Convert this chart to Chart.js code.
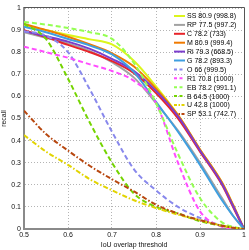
<!DOCTYPE html>
<html>
<head>
<meta charset="utf-8">
<script src="https://cdn.jsdelivr.net/npm/chart.js@4/dist/chart.umd.min.js"></script>
<style>
  html, body { margin: 0; padding: 0; background: #fff; }
  #wrap { width: 249px; height: 250px; }
</style>
</head>
<body>
<div id="wrap"><canvas id="recall-chart" width="249" height="250"></canvas></div>
<script>
// data
const thresholds = [0.5, 0.55, 0.6, 0.65, 0.7, 0.75, 0.8, 0.85, 0.9, 0.95, 0.975, 1.0];

const seriesNames = ["SS 80.9 (998.8)", "RP 77.5 (997.2)", "C 78.2 (733)", "M 80.9 (999.4)",
  "Ri 79.3 (668.5)", "G 78.2 (893.3)", "O 66 (999.5)", "R1 70.8 (1000)", "EB 78.2 (991.1)",
  "B 64.5 (1000)", "U 42.8 (1000)", "SP 53.1 (742.7)"];

const ssRecall = [0.92, 0.90, 0.878, 0.858, 0.835, 0.76, 0.645, 0.515, 0.36, 0.21, 0.11, 0.0];
const rpRecall = [0.89, 0.865, 0.84, 0.805, 0.755, 0.685, 0.57, 0.445, 0.30, 0.14, 0.06, 0.0];
const cRecall = [0.90, 0.868, 0.833, 0.80, 0.76, 0.705, 0.615, 0.50, 0.35, 0.20, 0.10, 0.0];
const mRecall = [0.928, 0.90, 0.87, 0.835, 0.795, 0.735, 0.635, 0.515, 0.36, 0.21, 0.11, 0.0];
const riRecall = [0.895, 0.872, 0.848, 0.815, 0.77, 0.715, 0.625, 0.51, 0.355, 0.205, 0.105, 0.0];
const gRecall = [0.915, 0.89, 0.86, 0.83, 0.79, 0.71, 0.575, 0.44, 0.29, 0.13, 0.06, 0.0];
const oRecall = [0.895, 0.875, 0.80, 0.63, 0.44, 0.27, 0.175, 0.10, 0.05, 0.015, 0.005, 0.0];
const r1Recall = [0.825, 0.80, 0.775, 0.745, 0.715, 0.67, 0.57, 0.30, 0.08, 0.01, 0.003, 0.0];
const ebRecall = [0.937, 0.925, 0.91, 0.89, 0.86, 0.75, 0.57, 0.34, 0.14, 0.03, 0.01, 0.0];
const bRecall = [0.93, 0.86, 0.68, 0.48, 0.30, 0.16, 0.10, 0.07, 0.035, 0.015, 0.006, 0.0];
const uRecall = [0.425, 0.35, 0.29, 0.225, 0.175, 0.13, 0.095, 0.065, 0.04, 0.015, 0.006, 0.0];
const spRecall = [0.535, 0.43, 0.355, 0.285, 0.225, 0.17, 0.11, 0.07, 0.04, 0.015, 0.006, 0.0];

const xTickLabels = ["0.5", "0.6", "0.7", "0.8", "0.9", "1"];
const yTickLabels = ["0", "0.1", "0.2", "0.3", "0.4", "0.5", "0.6", "0.7", "0.8", "0.9", "1"];

// styles
const solid = [];
const dash = [5, 3];
const dashDot = [5, 2, 1.5, 2];

const styles = [
  { color: '#dcf51c', dash: solid },
  { color: '#a2a2a2', dash: solid },
  { color: '#e8242a', dash: solid },
  { color: '#f07a00', dash: solid },
  { color: '#7b3dcc', dash: solid },
  { color: '#3f9fe0', dash: solid },
  { color: '#8888ec', dash: dash },
  { color: '#ff4cff', dash: dash },
  { color: '#94ff52', dash: dash },
  { color: '#74d400', dash: dash },
  { color: '#e2d400', dash: dashDot },
  { color: '#b84810', dash: dashDot }
];

const allRecall = [ssRecall, rpRecall, cRecall, mRecall, riRecall, gRecall,
  oRecall, r1Recall, ebRecall, bRecall, uRecall, spRecall];

const datasets = allRecall.map((vals, i) => ({
  label: seriesNames[i],
  data: vals.map((v, j) => ({ x: thresholds[j], y: v })),
  borderColor: styles[i].color,
  backgroundColor: styles[i].color,
  borderDash: styles[i].dash,
  borderWidth: 2,
  pointRadius: 0,
  cubicInterpolationMode: 'monotone',
  fill: false,
  order: allRecall.length - i
}));

const font = { family: "'Liberation Sans', Arial, sans-serif", size: 7 };

// legend drawn under the lines, like the original
const legendPlugin = {
  id: 'innerLegend',
  beforeDatasetsDraw(chart) {
    const ctx = chart.ctx;
    const area = chart.chartArea;
    ctx.save();
    // top and right box lines
    ctx.strokeStyle = '#555';
    ctx.lineWidth = 1;
    ctx.beginPath();
    ctx.moveTo(area.left, area.top - 0.5);
    ctx.lineTo(area.right + 0.5, area.top - 0.5);
    ctx.lineTo(area.right + 0.5, area.bottom);
    ctx.stroke();

    ctx.font = `${font.size}px ${font.family}`;
    ctx.textBaseline = 'middle';
    ctx.fillStyle = '#000';
    seriesNames.forEach((name, i) => {
      const y = 16 + i * 8.9;
      ctx.strokeStyle = styles[i].color;
      ctx.lineWidth = 2;
      ctx.setLineDash(styles[i].dash.length ? [3, 2.5] : []);
      if (styles[i].dash === dashDot) ctx.setLineDash([3, 1.5, 1.5, 1.5]);
      ctx.beginPath();
      ctx.moveTo(174, y);
      ctx.lineTo(185, y);
      ctx.stroke();
      ctx.setLineDash([]);
      ctx.fillText(name, 187, y + 0.5);
    });
    ctx.restore();
  }
};

const recallCanvas = document.getElementById('recall-chart');

let recallChart = new Chart(recallCanvas, {
  type: 'line',
  data: { datasets: datasets },
  options: {
    responsive: false,
    animation: false,
    layout: { padding: { top: 8, right: 5, left: 0, bottom: 0 } },
    plugins: {
      legend: { display: false },
      tooltip: { enabled: false }
    },
    scales: {
      x: {
        type: 'linear',
        min: 0.5,
        max: 1,
        afterFit: scale => { scale.height = 21; },
        ticks: {
          stepSize: 0.1,
          padding: 2,
          color: '#111',
          font: font,
          maxRotation: 0,
          callback: v => xTickLabels[Math.round((v - 0.5) * 10)]
        },
        grid: {
          color: '#b4b4b4',
          drawTicks: false,
          tickBorderDash: [1, 2]
        },
        border: { display: true, color: '#8a8a8a', width: 2, dash: [1, 2] },
        title: {
          display: true,
          text: 'IoU overlap threshold',
          color: '#111',
          font: font,
          padding: { top: 0, bottom: 1 }
        }
      },
      y: {
        min: 0,
        max: 1,
        afterFit: scale => { scale.width = 24; },
        ticks: {
          stepSize: 0.1,
          padding: 3,
          color: '#111',
          font: font,
          callback: v => yTickLabels[Math.round(v * 10)]
        },
        grid: {
          color: '#b4b4b4',
          drawTicks: false
        },
        border: { display: true, color: '#8a8a8a', width: 2, dash: [1, 2] },
        title: {
          display: true,
          text: 'recall',
          color: '#111',
          font: font,
          padding: { top: 0, bottom: 0 }
        }
      }
    }
  },
  plugins: [legendPlugin]
});
</script>
</body>
</html>
